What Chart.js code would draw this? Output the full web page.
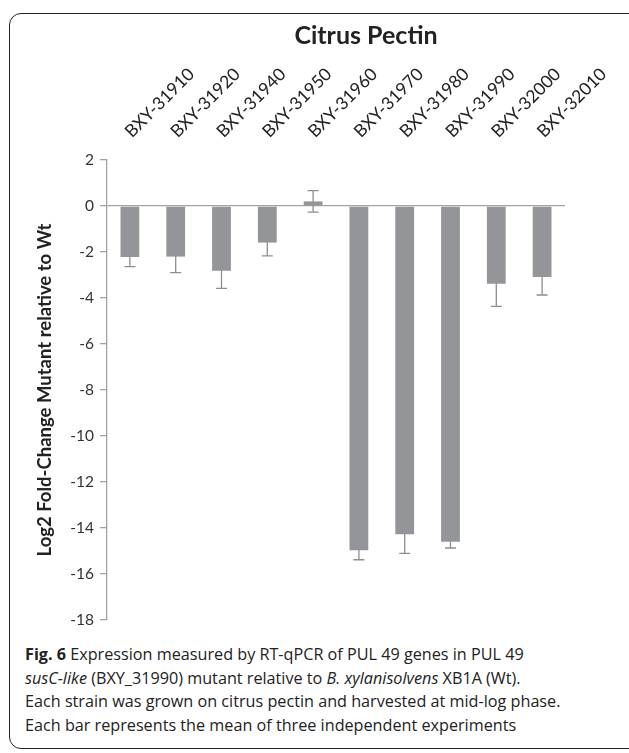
<!DOCTYPE html>
<html>
<head>
<meta charset="utf-8">
<script src="https://cdn.jsdelivr.net/npm/chart.js@4.4.1/dist/chart.umd.min.js"></script>
<style>
  html, body { margin: 0; padding: 0; background: #fff; }
  body { width: 629px; height: 753px; position: relative; overflow: hidden; }
  #frame {
    position: absolute; left: 9px; top: 13px; width: 640px; height: 736px;
    border: 1.3px solid #222; border-radius: 12px; box-sizing: border-box;
  }
  #wrap { position: absolute; left: 0; top: 0; width: 629px; height: 640px; }
  #title {
    position: absolute; left: 266px; width: 200px; top: 19px; text-align: center;
    font: bold 25px Lato, sans-serif; color: #222;
  }
  #caption {
    position: absolute; left: 25px; top: 643px; white-space: nowrap;
    font: 16.2px "Open Sans", sans-serif; line-height: 23.5px; color: #222;
  }
</style>
</head>
<body>
<div id="frame"></div>
<div id="wrap"><canvas id="chart"></canvas></div>
<div id="title">Citrus Pectin</div>
<div id="caption">
  <b>Fig. 6</b> Expression measured by RT-qPCR of PUL 49 genes in PUL 49<br>
  <i>susC-like</i> (BXY_31990) mutant relative to <i>B. xylanisolvens</i> XB1A (Wt).<br>
  Each strain was grown on citrus pectin and harvested at mid-log phase.<br>
  Each bar represents the mean of three independent experiments
</div>
<script>
// --- Data ---
const strains = ['BXY-31910', 'BXY-31920', 'BXY-31940', 'BXY-31950', 'BXY-31960',
                 'BXY-31970', 'BXY-31980', 'BXY-31990', 'BXY-32000', 'BXY-32010'];
const log2Change = [-2.22, -2.2, -2.81, -1.59, 0.2, -14.97, -14.27, -14.6, -3.38, -3.09];
const errors = [0.42, 0.7, 0.77, 0.58, 0.47, 0.41, 0.83, 0.27, 0.98, 0.78];
const yTicks = [2, 0, -2, -4, -6, -8, -10, -12, -14, -16, -18];

const axisGray = '#a3a3a3';
const barGray = '#939598';

// error bars drawn under the bars so only the part outside shows
const errorBars = {
  id: 'errorBars',
  beforeDatasetsDraw(chart) {
    const { ctx, scales: { y } } = chart;
    const meta = chart.getDatasetMeta(0);
    ctx.save();
    ctx.strokeStyle = '#8e8e8e';
    ctx.lineWidth = 1.3;
    meta.data.forEach((bar, i) => {
      const v = log2Change[i], e = errors[i];
      const top = y.getPixelForValue(v + e);
      const bot = y.getPixelForValue(v - e);
      ctx.beginPath();
      ctx.moveTo(bar.x, top); ctx.lineTo(bar.x, bot);
      ctx.moveTo(bar.x - 5.5, top); ctx.lineTo(bar.x + 5.5, top);
      ctx.moveTo(bar.x - 5.5, bot); ctx.lineTo(bar.x + 5.5, bot);
      ctx.stroke();
    });
    ctx.restore();
  }
};

new Chart(document.getElementById('chart'), {
  type: 'bar',
  data: {
    labels: strains,
    datasets: [{
      data: log2Change,
      backgroundColor: barGray,
      categoryPercentage: 1,
      barPercentage: 0.41
    }]
  },
  plugins: [errorBars],
  options: {
    responsive: true,
    maintainAspectRatio: false,
    animation: false,
    layout: { padding: { left: 0, top: 0, right: 64, bottom: 20 } },
    plugins: { legend: { display: false }, tooltip: { enabled: false } },
    scales: {
      x: {
        position: 'top',
        grid: { display: false },
        border: { display: false },
        ticks: {
          minRotation: 45, maxRotation: 45, padding: 10, labelOffset: 13,
          color: '#222', font: { family: 'Lato', size: 17.5 }
        },
        afterFit: s => { s.height = 160; }
      },
      y: {
        min: -18, max: 2,
        afterBuildTicks: s => { s.ticks = yTicks.map(v => ({ value: v })); },
        border: { color: axisGray, width: 1.3 },
        grid: {
          color: c => c.tick && c.tick.value === 0 ? axisGray : 'rgba(0,0,0,0)',
          lineWidth: 1.3,
          tickColor: axisGray,
          tickLength: 7
        },
        ticks: { color: '#333', padding: 6, font: { family: 'Lato', size: 15.5 } },
        title: {
          display: true, text: 'Log2 Fold-Change Mutant relative to Wt',
          color: '#222', font: { family: 'Lato', size: 18.5, weight: 'bold' },
          padding: { top: 34 }
        },
        afterFit: s => { s.width = 107; }
      }
    }
  }
});
</script>
</body>
</html>
